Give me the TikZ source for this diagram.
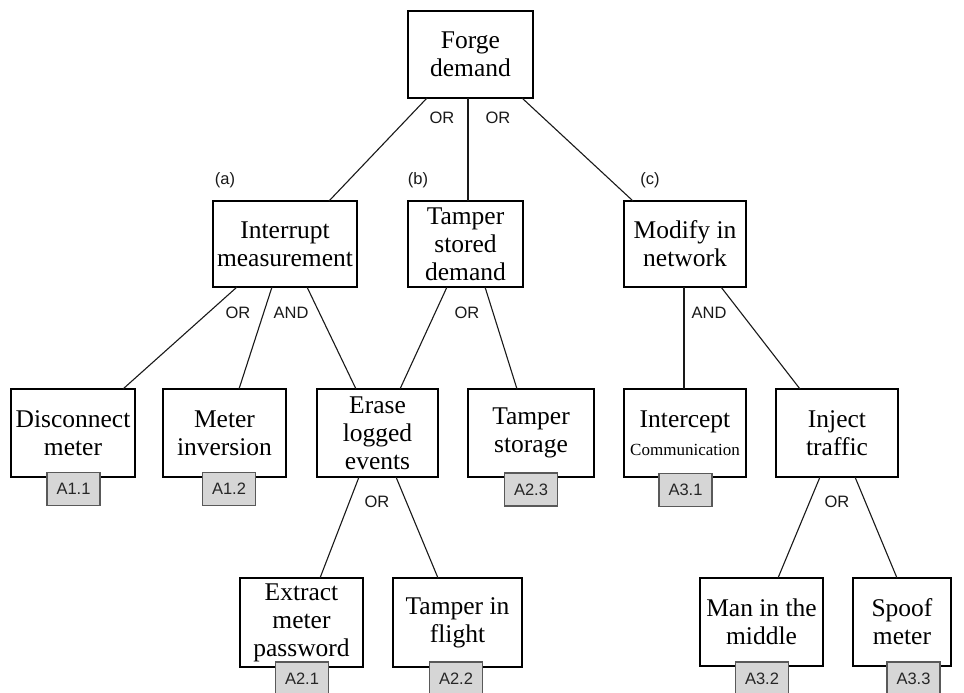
\documentclass[tikz,border=0pt]{standalone}
\usepackage{fontspec}
\setmainfont{Liberation Serif}
\setsansfont{Liberation Sans}
\begin{document}
\begin{tikzpicture}[x=1pt,y=1pt,
  box/.style={draw=black, fill=white, line width=1.4pt, inner sep=0pt, outer sep=0pt,
    align=center, font=\fontsize{25.5}{28}\selectfont},
  tab/.style={draw=black!65, fill=black!16, line width=1.6pt, inner sep=0pt, outer sep=0pt,
    minimum width=53, minimum height=33, font=\sffamily\fontsize{16.5}{18}\selectfont, text=black!85},
  gate/.style={font=\sffamily\fontsize{16.5}{18}\selectfont, text=black!90, inner sep=0pt},
  conn/.style={line width=1.1pt, black!90}]
\clip (0,0) rectangle (964,-693);
\fill[white] (0,0) rectangle (964,-693);
% boxes
\node[box, minimum width=125, minimum height=87] (forge) at (470.5,-54.5) {Forge\\demand};
\node[box, minimum width=144, minimum height=86] (int) at (285,-244) {Interrupt\\measurement};
\node[box, minimum width=115, minimum height=86] (tsd) at (465.5,-244) {Tamper\\stored\\demand};
\node[box, minimum width=122, minimum height=86] (mod) at (685,-244) {Modify in\\network};
\node[box, minimum width=124, minimum height=88] (dis) at (73,-433) {Disconnect\\meter};
\node[box, minimum width=123, minimum height=88] (mi) at (224.5,-433) {Meter\\inversion};
\node[box, minimum width=121, minimum height=88] (ele) at (377.5,-433) {Erase\\logged\\events};
\node[box, minimum width=126, minimum height=88] (ts) at (531,-433) {Tamper\\storage};
\node[box, minimum width=122, minimum height=88] (ic) at (685,-433) {Intercept\\{\fontsize{17}{20}\selectfont Communication}};
\node[box, minimum width=122, minimum height=88] (it) at (837,-433) {Inject\\traffic};
\node[box, minimum width=123, minimum height=89] (emp) at (301.5,-622.5) {Extract\\meter\\password};
\node[box, minimum width=129, minimum height=89] (tif) at (457.5,-622.5) {Tamper in\\flight};
\node[box, minimum width=123, minimum height=88] (mim) at (761.5,-622) {Man in the\\middle};
\node[box, minimum width=98, minimum height=88] (sm) at (902,-622) {Spoof\\meter};
% tabs
\node[tab] (t11) at (73.5,-489) {A1.1};
\node[tab] (t12) at (229,-489) {A1.2};
\node[tab] (t23) at (531,-489.5) {A2.3};
\node[tab] (t31) at (685.5,-490) {A3.1};
\node[tab] (t21) at (302,-678.5) {A2.1};
\node[tab] (t22) at (456,-678.5) {A2.2};
\node[tab] (t32) at (762,-678.5) {A3.2};
\node[tab] (t33) at (913.5,-678.5) {A3.3};
% connectors
\draw[conn] ([xshift=19]forge.south west) -- ([xshift=116]int.north west);
\draw[conn] ([xshift=60]forge.south west) -- ([xshift=60]tsd.north west);
\draw[conn] ([xshift=114]forge.south west) -- ([xshift=9]mod.north west);
\draw[conn] ([xshift=24]int.south west) -- ([xshift=112]dis.north west);
\draw[conn] ([xshift=59]int.south west) -- ([xshift=76]mi.north west);
\draw[conn] ([xshift=94]int.south west) -- ([xshift=39]ele.north west);
\draw[conn] ([xshift=39]tsd.south west) -- ([xshift=83]ele.north west);
\draw[conn] ([xshift=77]tsd.south west) -- ([xshift=49]ts.north west);
\draw[conn] ([xshift=60]mod.south west) -- ([xshift=60]ic.north west);
\draw[conn] ([xshift=97]mod.south west) -- ([xshift=24]it.north west);
\draw[conn] ([xshift=42]ele.south west) -- ([xshift=80]emp.north west);
\draw[conn] ([xshift=79]ele.south west) -- ([xshift=45]tif.north west);
\draw[conn] ([xshift=44]it.south west) -- ([xshift=78]mim.north west);
\draw[conn] ([xshift=79]it.south west) -- ([xshift=44]sm.north west);
% gate labels
\node[gate] (g1) at (442,-118) {OR};
\node[gate] (g2) at (498,-118) {OR};
\node[gate] (la) at (225,-180) {(a)};
\node[gate] (lb) at (418,-180) {(b)};
\node[gate] (lc) at (650,-180) {(c)};
\node[gate] (g3) at (238,-313) {OR};
\node[gate] (g4) at (291,-313) {AND};
\node[gate] (g5) at (467,-313) {OR};
\node[gate] (g6) at (709,-313) {AND};
\node[gate] (g7) at (377,-502) {OR};
\node[gate] (g8) at (837,-502) {OR};
\end{tikzpicture}
\end{document}
